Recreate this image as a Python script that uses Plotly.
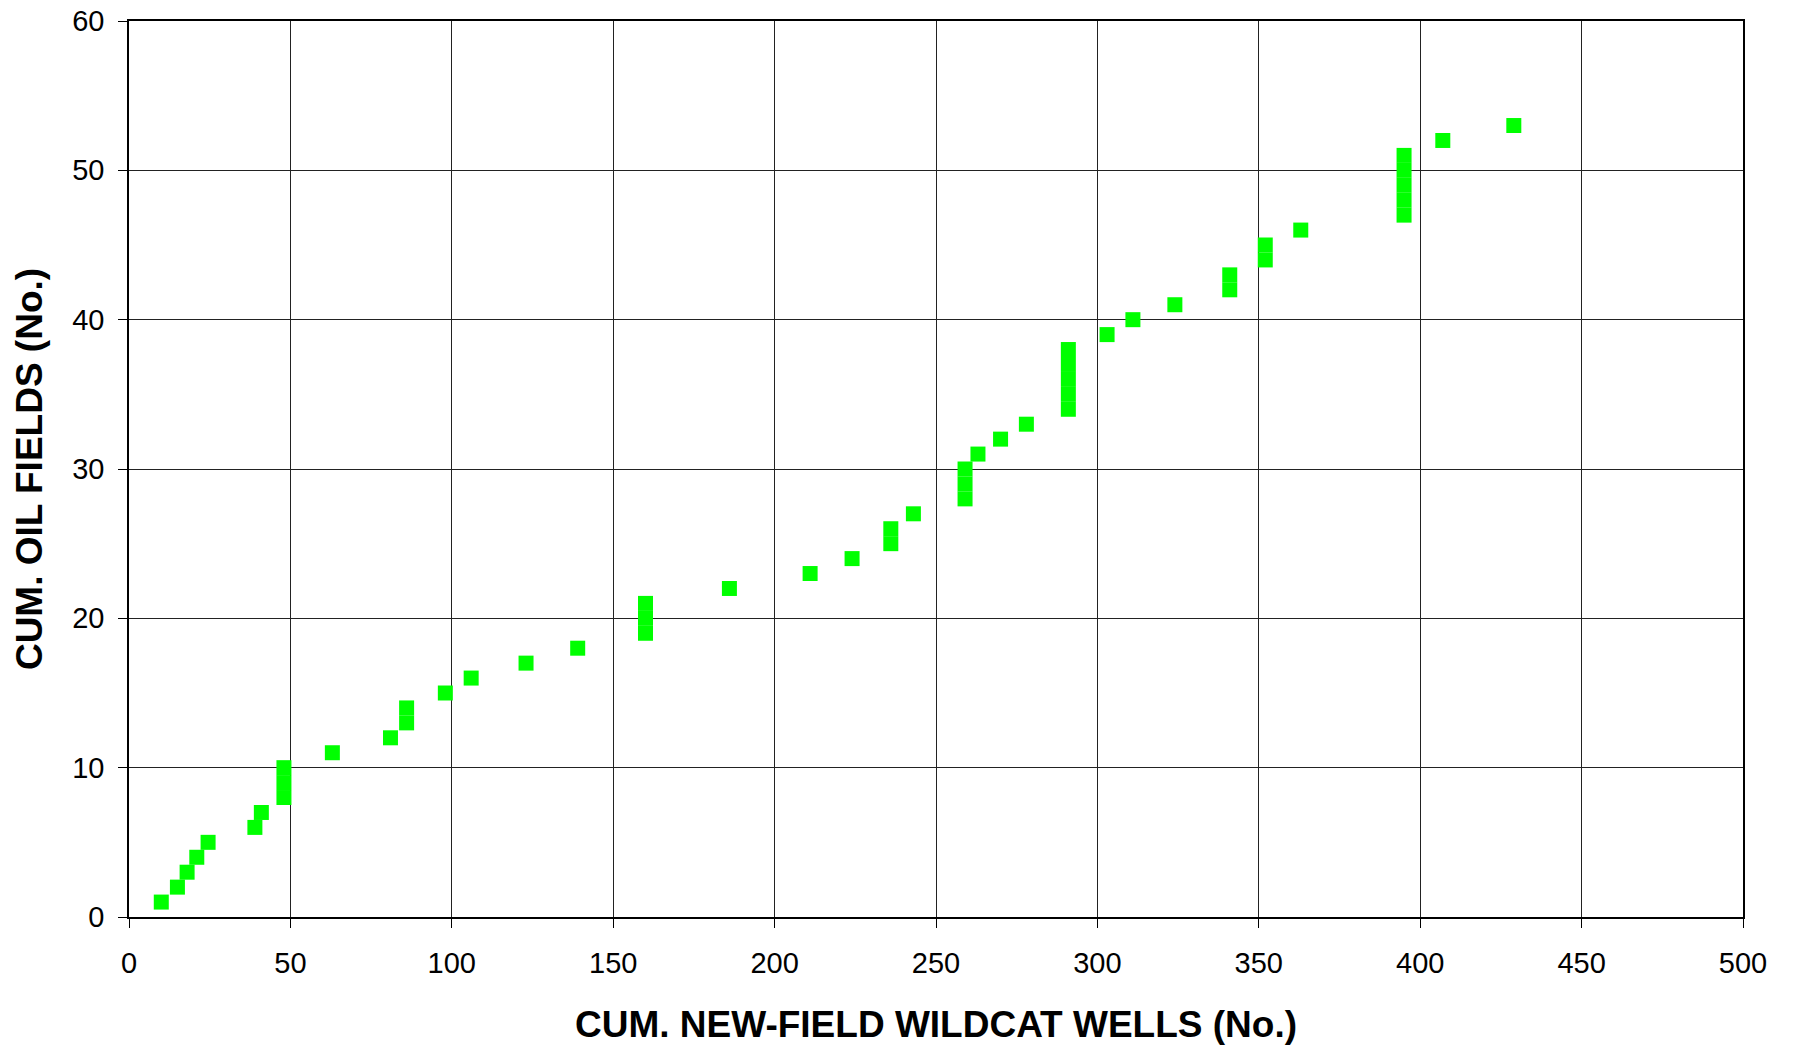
import plotly.graph_objects as go

# Cumulative new-field wildcat wells (x) vs cumulative oil fields (y)
wells = [10, 15, 18, 21, 24.5, 39, 41, 48, 48, 48,
         63, 81, 86, 86, 98, 106, 123, 139, 160, 160,
         160, 186, 211, 224, 236, 236, 243, 259, 259, 259,
         263, 270, 278, 291, 291, 291, 291, 291, 303, 311,
         324, 341, 341, 352, 352, 363, 395, 395, 395, 395,
         395, 407, 429]
fields = list(range(1, 54))

x_ticks = [0, 50, 100, 150, 200, 250, 300, 350, 400, 450, 500]
y_ticks = [0, 10, 20, 30, 40, 50, 60]

FONT = "Liberation Sans, Arial, sans-serif"

fig = go.Figure()
fig.add_trace(go.Scatter(
    x=wells, y=fields, mode="markers",
    marker=dict(symbol="square", size=15, color="#00FF00",
                line=dict(width=0)),
    showlegend=False,
))

axis_common = dict(
    showgrid=True, gridcolor="#222222", gridwidth=1,
    showline=True, linecolor="#000000", linewidth=1.5, mirror=True,
    ticks="outside", ticklen=9, tickcolor="#000000", tickwidth=1,
    zeroline=False, ticklabeloverflow="allow",
    tickfont=dict(family=FONT, size=29, color="#000000"),
)

fig.update_layout(
    width=1793, height=1045,
    paper_bgcolor="white", plot_bgcolor="white",
    margin=dict(l=129, r=50, t=21, b=128, autoexpand=False),
    font=dict(family=FONT, color="#000000"),
    xaxis=dict(
        range=[0, 500], tickvals=x_ticks, ticktext=[str(v) for v in x_ticks],
        title=dict(text="<b>CUM. NEW-FIELD WILDCAT WELLS (No.)</b>",
                   font=dict(family=FONT, size=37),
                   standoff=38),
        ticklabelstandoff=10,
        **axis_common,
    ),
    yaxis=dict(
        range=[0, 60], tickvals=y_ticks, ticktext=[str(v) for v in y_ticks],
        title=dict(text="<b>CUM. OIL FIELDS (No.)</b>",
                   font=dict(family=FONT, size=37),
                   standoff=18),
        ticklabelstandoff=8,
        **axis_common,
    ),
)

fig.write_html(
    "out.html",
    config={"displayModeBar": False},
    post_script="document.body.style.margin='0';document.body.style.overflow='hidden';",
)
